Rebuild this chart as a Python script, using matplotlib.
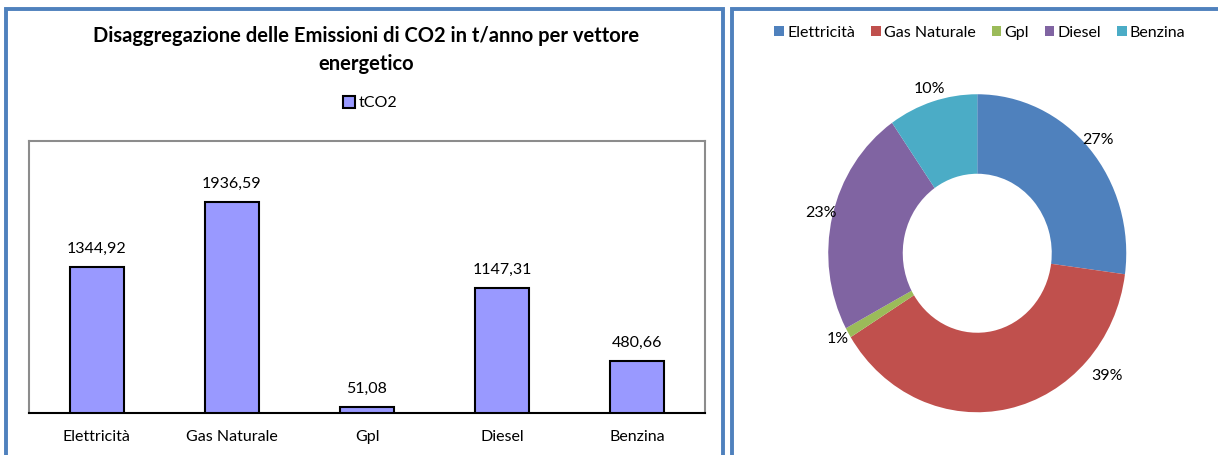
import numpy as np
import matplotlib
matplotlib.use("Agg")
import matplotlib.pyplot as plt
from matplotlib.patches import Rectangle

# ======================
# Data
# ======================
categories = ["Elettricità", "Gas Naturale", "Gpl", "Diesel", "Benzina"]
emissions = [1344.92, 1936.59, 51.08, 1147.31, 480.66]
series_name = "tCO2"
title = "Disaggregazione delle Emissioni di CO2 in t/anno per vettore\nenergetico"
pie_colors = ["#4F81BD", "#C0504D", "#9BBB59", "#8064A2", "#4BACC6"]

plt.rcParams['font.family'] = ['Lato', 'DejaVu Sans']

W, H = 1218, 455
fig = plt.figure(figsize=(W / 100, H / 100), dpi=100)

def fx(px):
    return px / W

def fy(py):
    return 1 - py / H

# panel frames (bottom edge is cut off in the original)
for x0, x1 in [(6, 723), (732, 1240)]:
    fig.patches.append(Rectangle((fx(x0), fy(480)), fx(x1 - x0), (480 - 9) / H,
                                 transform=fig.transFigure, fill=False,
                                 edgecolor="#4F81BD", lw=2.8, clip_on=False))

# ======================
# Bar chart
# ======================
ax = fig.add_axes([fx(29), fy(413), fx(705 - 29), (413 - 141) / H])
x = np.arange(len(categories))
bars = ax.bar(x, emissions, width=0.4, color="#9999FF", edgecolor="black",
              linewidth=1.5, label=series_name, zorder=3)
ax.set_xlim(-0.5, len(categories) - 0.5)
ax.set_ylim(0, 2500)
ax.set_yticks([])
ax.set_xticks(x)
ax.set_xticklabels(categories, fontsize=11.5)
ax.tick_params(axis='x', length=0, pad=12)
for s in ["top", "left", "right"]:
    ax.spines[s].set_color("#8C8C8C")
    ax.spines[s].set_linewidth(1.5)
ax.spines["bottom"].set_color("black")
ax.spines["bottom"].set_linewidth(1.5)

for b, v in zip(bars, emissions):
    ax.annotate(f"{v:.2f}".replace(".", ","), (b.get_x() + b.get_width() / 2, v),
                xytext=(0, 8), textcoords="offset points", ha="center",
                va="bottom", fontsize=11.5)

fig.text(fx(366), fy(50), title, ha="center", va="center", fontsize=14.5,
         fontweight="bold", linespacing=1.55)
fig.legend(handles=[bars], labels=[series_name], loc="center",
           bbox_to_anchor=(fx(370), fy(103)), frameon=False, fontsize=11.5,
           handlelength=0.8, handleheight=0.8, handletextpad=0.2)

# ======================
# Doughnut chart
# ======================
axp = fig.add_axes([fx(791), fy(452), fx(372.5), 397.5 / H])
wedges, _, pct = axp.pie(emissions, colors=pie_colors, startangle=90,
                         counterclock=False, autopct='%1.0f%%',
                         pctdistance=1.08, wedgeprops=dict(width=0.5),
                         textprops=dict(fontsize=11.5))
axp.set_aspect('auto')
axp.set_xlim(-1.25, 1.25)
axp.set_ylim(-1.25, 1.25)
# the big slice label sits lower right in the original
pct[1].set_position((0.87, -0.77))

fig.legend(handles=wedges, labels=categories, loc="center",
           bbox_to_anchor=(fx(980), fy(33)), ncol=5, frameon=False,
           fontsize=11.5, handlelength=0.6, handleheight=0.6,
           handletextpad=0.2, columnspacing=1.0)

fig.savefig("out.png", dpi=100)
